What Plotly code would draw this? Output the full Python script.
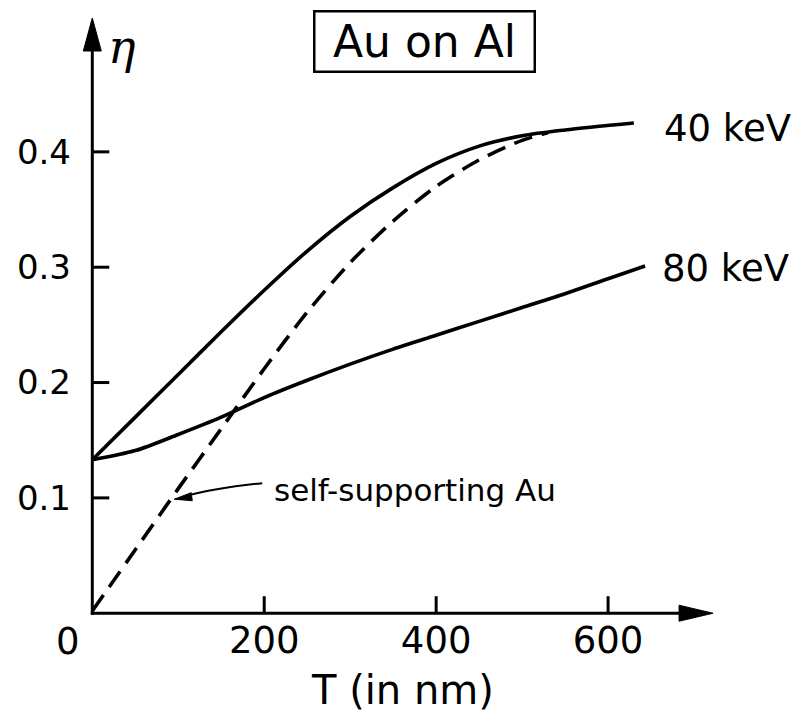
import plotly.graph_objects as go

# ---- data ----
T_40 = [0, 50, 100, 150, 200, 250, 300, 350, 400, 450, 500, 550, 630]
eta_40 = [0.133, 0.170, 0.207, 0.244, 0.280, 0.314, 0.344, 0.369, 0.390, 0.405, 0.414, 0.419, 0.425]

T_80 = [0, 50, 100, 150, 200, 250, 300, 350, 400, 450, 500, 550, 600, 643]
eta_80 = [0.133, 0.141, 0.155, 0.170, 0.187, 0.202, 0.216, 0.229, 0.241, 0.253, 0.265, 0.277, 0.290, 0.301]

T_self = [0, 50, 100, 150, 200, 250, 300, 350, 400, 450, 500, 530]
eta_self = [0.002, 0.055, 0.108, 0.160, 0.212, 0.261, 0.304, 0.340, 0.370, 0.393, 0.410, 0.4165]

x_ticks = [200, 400, 600]
x_ticklabels = ["200", "400", "600"]
y_ticks = [0.1, 0.2, 0.3, 0.4]
y_ticklabels = ["0.1", "0.2", "0.3", "0.4"]

# ---- layout geometry ----
W, H = 804, 718
PX0, PY0 = 92, 613          # pixel position of the origin
SX = 0.86                   # px per nm
SY = 1153.0                 # px per unit eta
XMIN, YMIN = -5.0, -0.005   # small negative padding so lines at the axes are not clipped
L = PX0 + XMIN * SX
B = H - (PY0 + (-YMIN) * SY)
R, TOP = 12, 10
PW, PH = W - L - R, H - TOP - B
xmax = XMIN + PW / SX
ymax = YMIN + PH / SY


def px2paper(px):
    return (px - L) / PW


def py2paper(py):
    return (H - B - py) / PH


FONT = "DejaVu Sans"
LW = 3.6

fig = go.Figure()
for xs, ys, dash in [(T_40, eta_40, None), (T_80, eta_80, None), (T_self, eta_self, "19px,10px")]:
    line = dict(color="black", width=LW, shape="spline", smoothing=0.8)
    if dash:
        line["dash"] = dash
    fig.add_trace(go.Scatter(x=xs, y=ys, mode="lines", line=line,
                             showlegend=False, hoverinfo="skip"))

shapes = []
ax0x, ax0y = px2paper(PX0), py2paper(PY0)
# axes lines (paper refs so they are not clipped)
shapes.append(dict(type="line", xref="paper", yref="paper", x0=ax0x, x1=ax0x,
                   y0=py2paper(PY0 + 1.5), y1=py2paper(45), line=dict(color="black", width=3)))
shapes.append(dict(type="line", xref="paper", yref="paper", x0=px2paper(PX0 - 1.5), x1=px2paper(685),
                   y0=ax0y, y1=ax0y, line=dict(color="black", width=3)))
# arrow heads
shapes.append(dict(type="path", xref="paper", yref="paper", xsizemode="pixel", ysizemode="pixel",
                   xanchor=ax0x, yanchor=py2paper(18),
                   path="M0,0 L-9,-33 L9,-33 Z", fillcolor="black",
                   line=dict(color="black", width=1)))
shapes.append(dict(type="path", xref="paper", yref="paper", xsizemode="pixel", ysizemode="pixel",
                   xanchor=px2paper(713), yanchor=ax0y,
                   path="M0,0 L-34,8 L-34,-8 Z", fillcolor="black",
                   line=dict(color="black", width=1)))
# pointer for "self-supporting Au"
shapes.append(dict(type="path", xref="paper", yref="paper",
                   path=(f"M{px2paper(262)},{py2paper(483)} Q{px2paper(215)},{py2paper(488)} "
                         f"{px2paper(185)},{py2paper(496)}"),
                   line=dict(color="black", width=2)))
shapes.append(dict(type="path", xref="paper", yref="paper", xsizemode="pixel", ysizemode="pixel",
                   xanchor=px2paper(174), yanchor=py2paper(499),
                   path="M0,0 L17,6.5 L18,-1.5 Z", fillcolor="black",
                   line=dict(color="black", width=1)))

annotations = [
    dict(x=px2paper(122), y=py2paper(47), text="<i>η</i>",
         font=dict(family="DejaVu Serif", size=46, color="black")),
    dict(x=px2paper(424), y=py2paper(41), text="Au on Al",
         font=dict(family=FONT, size=44, color="black"), width=216, height=56,
         bordercolor="black", borderwidth=2.5, borderpad=1, bgcolor="white"),
    dict(x=px2paper(727), y=py2paper(128), text="40 keV",
         font=dict(family=FONT, size=37, color="black")),
    dict(x=px2paper(725), y=py2paper(268), text="80 keV",
         font=dict(family=FONT, size=37, color="black")),
    dict(x=px2paper(415), y=py2paper(490), text="self-supporting Au",
         font=dict(family=FONT, size=31, color="black")),
    dict(x=px2paper(402), y=py2paper(690), text="T (in nm)",
         font=dict(family=FONT, size=40, color="black")),
    dict(x=px2paper(68), y=py2paper(641), text="0",
         font=dict(family=FONT, size=37, color="black")),
]
for a in annotations:
    a.update(xref="paper", yref="paper", xanchor="center", yanchor="middle", showarrow=False)

fig.update_layout(
    width=W, height=H,
    margin=dict(l=L, r=R, t=TOP, b=B, pad=0),
    paper_bgcolor="white", plot_bgcolor="white",
    shapes=shapes, annotations=annotations,
    xaxis=dict(range=[XMIN, xmax], showgrid=False, zeroline=False, showline=False,
               tickmode="array", tickvals=x_ticks, ticktext=x_ticklabels,
               ticks="", tickfont=dict(family=FONT, size=37, color="black"),
               ticklabelstandoff=-4, fixedrange=True),
    yaxis=dict(range=[YMIN, ymax], showgrid=False, zeroline=False, showline=False,
               tickmode="array", tickvals=y_ticks, ticktext=y_ticklabels,
               ticks="", tickfont=dict(family=FONT, size=34, color="black"),
               ticklabelstandoff=16, fixedrange=True),
)

# tick marks drawn at the axes (inside)
for v in x_ticks:
    fig.add_shape(type="line", xref="x", yref="paper", x0=v, x1=v,
                  y0=ax0y, y1=py2paper(PY0 - 17), line=dict(color="black", width=3))
for v in y_ticks:
    fig.add_shape(type="line", xref="paper", yref="y", x0=ax0x, x1=px2paper(PX0 + 17),
                  y0=v, y1=v, line=dict(color="black", width=3))

fig.write_html("out.html")
